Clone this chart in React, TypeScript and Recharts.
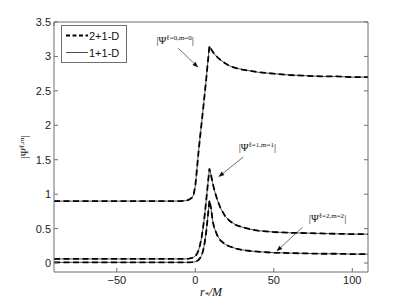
import { LineChart, Line, XAxis, YAxis, ReferenceLine, Legend, Label } from 'recharts';

// r*/M sample positions
const rStar = [-90, -50, -20, -10, -6, -4, -2, -1, 0, 1, 2, 3, 4, 5, 6, 7, 8, 9, 10, 11, 12, 14, 16, 19, 22, 26, 30, 35, 40, 50, 60, 70, 80, 90, 100, 110];

// |Psi| for l=0,m=0
const psi00 = [0.9, 0.9, 0.9, 0.9, 0.905, 0.92, 0.95, 1.0, 1.12, 1.35, 1.6, 1.82, 2.03, 2.24, 2.46, 2.68, 2.92, 3.15, 3.11, 3.07, 3.04, 2.99, 2.95, 2.9, 2.86, 2.83, 2.81, 2.79, 2.77, 2.75, 2.73, 2.72, 2.71, 2.71, 2.7, 2.7];
// |Psi| for l=1,m=1
const psi11 = [0.06, 0.06, 0.06, 0.06, 0.06, 0.065, 0.075, 0.085, 0.1, 0.13, 0.18, 0.26, 0.37, 0.52, 0.7, 0.92, 1.15, 1.37, 1.28, 1.17, 1.07, 0.92, 0.8, 0.68, 0.61, 0.55, 0.52, 0.49, 0.47, 0.45, 0.44, 0.435, 0.43, 0.425, 0.42, 0.42];
// |Psi| for l=2,m=2
const psi22 = [0.01, 0.01, 0.01, 0.01, 0.01, 0.01, 0.012, 0.015, 0.02, 0.03, 0.045, 0.07, 0.11, 0.18, 0.3, 0.46, 0.68, 0.91, 0.8, 0.62, 0.52, 0.4, 0.33, 0.27, 0.24, 0.21, 0.19, 0.175, 0.165, 0.15, 0.145, 0.14, 0.135, 0.135, 0.13, 0.13];

const xTicks = [-50, 0, 50, 100];
const yTicks = [0, 0.5, 1, 1.5, 2, 2.5, 3, 3.5];

// the 1+1-D and 2+1-D runs overlap at this scale
const data = rStar.map((r, i) => ({
  r,
  a2: psi00[i], a1: psi00[i],
  b2: psi11[i], b1: psi11[i],
  c2: psi22[i], c1: psi22[i],
}));

const axisColor = '#6e6e6e';
const tickFont = { fill: '#222', fontSize: 11, fontFamily: 'Liberation Sans, Arial, sans-serif' };
const serif = 'Liberation Serif, Times New Roman, serif';
const blank = () => '';

// annotation: arrow from (x1,y1) to (x2,y2), label offset from the arrow start
const notes = [
  { l: 0, m: 0, from: [-10.9, 3.12], to: [1.9, 2.84], dx: -3, dy: -4 },
  { l: 1, m: 1, from: [30.6, 1.54], to: [14.7, 1.25], dx: 14, dy: -6 },
  { l: 2, m: 2, from: [68.3, 0.52], to: [51.7, 0.17], dx: 25, dy: -5 },
];

const Arrow = (props: any) => {
  const { x1, y1, x2, y2, note } = props;
  const ang = Math.atan2(y2 - y1, x2 - x1);
  const len = 6;
  const w = 2.2;
  const bx = x2 - len * Math.cos(ang);
  const by = y2 - len * Math.sin(ang);
  const px = -Math.sin(ang) * w;
  const py = Math.cos(ang) * w;
  return (
    <g>
      <line x1={x1} y1={y1} x2={bx} y2={by} stroke="#333" strokeWidth={0.7} />
      <polygon points={`${x2},${y2} ${bx + px},${by + py} ${bx - px},${by - py}`} fill="#111" />
      <text x={x1 + note.dx} y={y1 + note.dy} textAnchor="middle" fontFamily={serif} fontSize={10.5} fill="#111">
        |Ψ<tspan fontSize={7} dy={-4}>{`ℓ=${note.l},m=${note.m}`}</tspan><tspan dy={4}>|</tspan>
      </text>
    </g>
  );
};

const LegendBox = () => (
  <svg width={66} height={38}>
    <rect x={0.5} y={0.5} width={65} height={37} fill="#fff" stroke={axisColor} strokeWidth={1} />
    <line x1={5} x2={27} y1={10.5} y2={10.5} stroke="#000" strokeWidth={1.8} strokeDasharray="4 2.5" />
    <text x={28} y={14.5} fontSize={11} fontFamily="Liberation Sans, Arial, sans-serif" fill="#111">2+1-D</text>
    <line x1={5} x2={27} y1={27.5} y2={27.5} stroke="#000" strokeWidth={0.7} />
    <text x={28} y={31.5} fontSize={11} fontFamily="Liberation Sans, Arial, sans-serif" fill="#111">1+1-D</text>
  </svg>
);

export default function App() {
  return (
    <div style={{ position: 'absolute', left: 0, top: 0, width: 407, height: 306, background: '#fff' }}>
      <LineChart width={407} height={306} data={data} margin={{ top: 21, right: 38, bottom: 4, left: 14 }}>
        <XAxis
          dataKey="r"
          type="number"
          domain={[-90, 110]}
          ticks={xTicks}
          allowDataOverflow
          height={30}
          stroke={axisColor}
          tick={tickFont}
          tickSize={-4}
          tickMargin={8}
          tickFormatter={(v: number) => (v < 0 ? `\u2212${-v}` : `${v}`)}
        >
          <Label
            content={(p: any) => {
              const vb = p.viewBox;
              return (
                <text x={vb.x + vb.width / 2} y={vb.y + 24} textAnchor="middle" fontFamily={serif} fontStyle="italic" fontSize={12} fill="#111">
                  r<tspan fontSize={8} dy={2}>*</tspan><tspan dy={-2}>/M</tspan>
                </text>
              );
            }}
          />
        </XAxis>
        <XAxis xAxisId="top" orientation="top" type="number" domain={[-90, 110]} ticks={xTicks} allowDataOverflow height={1} stroke={axisColor} tick={tickFont} tickFormatter={blank} tickSize={-4} />
        <YAxis
          type="number"
          domain={[-0.13, 3.5]}
          ticks={yTicks}
          allowDataOverflow
          width={40}
          stroke={axisColor}
          tick={tickFont}
          tickSize={-4}
          tickMargin={7}
        >
          <Label
            content={(p: any) => {
              const vb = p.viewBox;
              const cx = 28;
              const cy = vb.y + vb.height / 2;
              return (
                <text x={cx} y={cy} transform={`rotate(-90 ${cx} ${cy})`} textAnchor="middle" fontFamily={serif} fontSize={11} fill="#111">
                  |Ψ<tspan fontSize={7} dy={-4}>ℓ,m</tspan><tspan dy={4}>|</tspan>
                </text>
              );
            }}
          />
        </YAxis>
        <YAxis yAxisId="right" orientation="right" type="number" domain={[-0.13, 3.5]} ticks={yTicks} allowDataOverflow width={1} stroke={axisColor} tick={tickFont} tickFormatter={blank} tickSize={-4} />

        <Legend
          content={() => <LegendBox />}
          layout="horizontal"
          verticalAlign="middle"
          align="center"
          wrapperStyle={{ left: 61, top: 25, width: 66, height: 38, lineHeight: 0 }}
        />

        <Line dataKey="a1" name="1+1-D" type="linear" stroke="#000" strokeWidth={0.7} dot={false} isAnimationActive={false} />
        <Line dataKey="b1" name="1+1-D" type="linear" stroke="#000" strokeWidth={0.7} dot={false} isAnimationActive={false} />
        <Line dataKey="c1" name="1+1-D" type="linear" stroke="#000" strokeWidth={0.7} dot={false} isAnimationActive={false} />
        <Line dataKey="a2" name="2+1-D" type="linear" stroke="#000" strokeWidth={1.8} strokeDasharray="6 3.5" dot={false} isAnimationActive={false} />
        <Line dataKey="b2" name="2+1-D" type="linear" stroke="#000" strokeWidth={1.8} strokeDasharray="6 3.5" dot={false} isAnimationActive={false} />
        <Line dataKey="c2" name="2+1-D" type="linear" stroke="#000" strokeWidth={1.8} strokeDasharray="6 3.5" dot={false} isAnimationActive={false} />

        {notes.map((n, i) => (
          <ReferenceLine
            key={i}
            segment={[{ x: n.from[0], y: n.from[1] }, { x: n.to[0], y: n.to[1] }]}
            shape={(p: any) => <Arrow {...p} note={n} />}
          />
        ))}
      </LineChart>
    </div>
  );
}
